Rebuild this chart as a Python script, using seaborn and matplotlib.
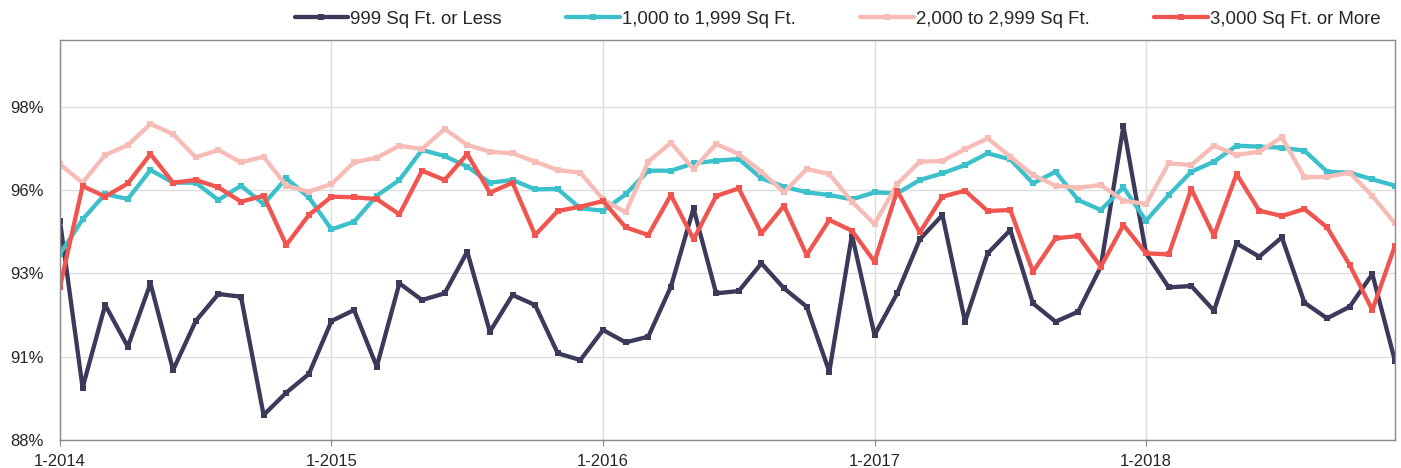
import pandas as pd
import seaborn as sns
import matplotlib.pyplot as plt
from matplotlib.ticker import FuncFormatter

# Monthly occupancy-style rates, Jan 2014 - Dec 2018
under_1000 = [94.57, 89.57, 92.05, 90.80, 92.70, 90.10, 91.57, 92.38, 92.30, 88.75, 89.42, 89.98,
              91.57, 91.90, 90.20, 92.70, 92.20, 92.40, 93.65, 91.25, 92.35, 92.05, 90.60, 90.40,
              91.30, 90.93, 91.10, 92.60, 94.95, 92.40, 92.47, 93.30, 92.55, 92.00, 90.05, 94.15,
              91.15, 92.40, 94.02, 94.75, 91.55, 93.60, 94.30, 92.10, 91.55, 91.85, 93.20, 97.42,
              93.60, 92.58, 92.62, 91.88, 93.90, 93.50, 94.08, 92.12, 91.65, 92.00, 92.98, 90.37]
from_1000 = [93.58, 94.62, 95.38, 95.23, 96.10, 95.72, 95.72, 95.20, 95.63, 95.08, 95.85, 95.28,
             94.32, 94.55, 95.33, 95.80, 96.70, 96.52, 96.20, 95.72, 95.80, 95.52, 95.53, 94.95,
             94.88, 95.37, 96.08, 96.08, 96.30, 96.38, 96.43, 95.85, 95.60, 95.43, 95.35, 95.22,
             95.43, 95.40, 95.80, 96.00, 96.25, 96.60, 96.42, 95.70, 96.05, 95.20, 94.90, 95.58,
             94.58, 95.35, 96.05, 96.35, 96.83, 96.80, 96.77, 96.68, 96.05, 96.02, 95.82, 95.63]
from_2000 = [96.27, 95.72, 96.55, 96.85, 97.48, 97.18, 96.48, 96.70, 96.33, 96.50, 95.63, 95.45,
             95.68, 96.33, 96.47, 96.83, 96.73, 97.33, 96.85, 96.65, 96.60, 96.35, 96.10, 96.02,
             95.22, 94.83, 96.35, 96.92, 96.13, 96.88, 96.58, 96.05, 95.43, 96.13, 95.98, 95.15,
             94.48, 95.68, 96.35, 96.37, 96.73, 97.05, 96.50, 95.95, 95.63, 95.57, 95.65, 95.18,
             95.08, 96.30, 96.25, 96.83, 96.55, 96.65, 97.08, 95.88, 95.90, 96.02, 95.32, 94.50]
over_3000 = [92.60, 95.62, 95.30, 95.70, 96.58, 95.72, 95.80, 95.58, 95.15, 95.33, 93.85, 94.75,
             95.30, 95.28, 95.23, 94.77, 96.08, 95.80, 96.58, 95.42, 95.72, 94.15, 94.87, 95.00,
             95.17, 94.38, 94.15, 95.35, 94.02, 95.32, 95.55, 94.20, 95.03, 93.55, 94.60, 94.28,
             93.35, 95.48, 94.23, 95.30, 95.48, 94.87, 94.90, 93.05, 94.05, 94.12, 93.20, 94.45,
             93.60, 93.57, 95.53, 94.13, 95.98, 94.88, 94.72, 94.93, 94.38, 93.25, 91.90, 93.83]

series_names = ["999 Sq Ft. or Less", "1,000 to 1,999 Sq Ft.",
                "2,000 to 2,999 Sq Ft.", "3,000 Sq Ft. or More"]
colors = ["#3b3a5a", "#3cc0cb", "#f8bcb7", "#f0554f"]
tick_labels = ["1-2014", "1-2015", "1-2016", "1-2017", "1-2018"]

months = list(range(len(under_1000)))
frames = []
for name, vals in zip(series_names, [under_1000, from_1000, from_2000, over_3000]):
    frames.append(pd.DataFrame({"month": months, "value": vals, "series": name}))
df = pd.concat(frames, ignore_index=True)

sns.set_style("white")
plt.rcParams['font.family'] = ['Liberation Sans', 'DejaVu Sans']

fig = plt.figure(figsize=(14.01, 4.68), dpi=100)
ax = fig.add_axes([0.0428, 0.0598, 0.9529, 0.8547])

sns.lineplot(data=df, x="month", y="value", hue="series", hue_order=series_names,
             palette=colors, marker="s", markersize=4, markeredgewidth=0,
             linewidth=3.1, ax=ax, legend=True)

ax.set_xlim(0, 59)
ax.set_ylim(88, 100)
ax.set_yticks([88, 90.5, 93, 95.5, 98])
ax.yaxis.set_major_formatter(FuncFormatter(lambda v, p: f"{int(v + 0.5)}%"))
ax.set_xticks([0, 12, 24, 36, 48])
ax.set_xticklabels(tick_labels)
ax.set_xlabel("")
ax.set_ylabel("")
ax.grid(True, color="#dddddd", linewidth=1)
ax.set_axisbelow(True)
for s in ax.spines.values():
    s.set_color("#8a8a8a")
    s.set_linewidth(1)
ax.tick_params(axis="x", length=4, color="#8a8a8a", labelsize=12, pad=6, bottom=True)
ax.tick_params(axis="y", length=0, labelsize=12, pad=11.5)

handles, labels = ax.get_legend_handles_labels()
ax.legend(handles, labels, loc="lower right", bbox_to_anchor=(0.998, 1.0), ncol=4,
          frameon=False, fontsize=13.4, handlelength=2.9, columnspacing=3.45,
          handletextpad=0.1, borderaxespad=0.25)

fig.savefig("out.png", dpi=100)
